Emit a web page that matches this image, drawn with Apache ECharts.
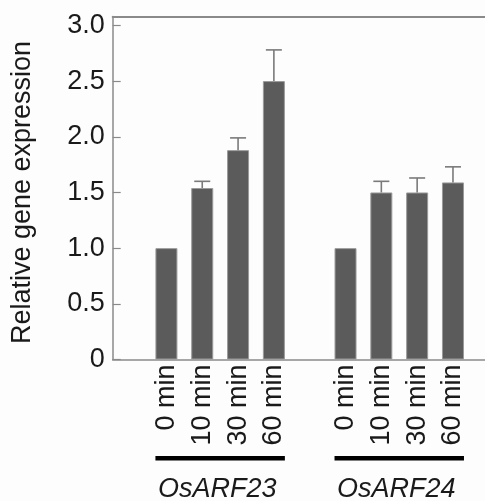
<!DOCTYPE html>
<html>
<head>
<meta charset="utf-8">
<script src="https://cdn.jsdelivr.net/npm/echarts@6/dist/echarts.min.js"></script>
<style>
html,body{margin:0;padding:0;background:#fdfdfd;}
#chart{width:485px;height:501px;}
</style>
</head>
<body>
<div id="chart"></div>
<script>
// ---- data ----
var genes = ['OsARF23', 'OsARF24'];
var timeLabels = ['0 min', '10 min', '30 min', '60 min'];
var values23 = [1.00, 1.54, 1.88, 2.50];
var err23 = [0, 0.06, 0.11, 0.28];
var values24 = [1.00, 1.50, 1.50, 1.59];
var err24 = [0, 0.10, 0.13, 0.14];
var yTicks = [0, 0.5, 1.0, 1.5, 2.0, 2.5, 3.0];

// ---- build category slots: blank, group1 (4), blank, group2 (4), blank ----
var categories = [];
var barData = [];
var errData = [];
var groupData = [];
var groupVals = [values23, values24];
var groupErrs = [err23, err24];
categories.push('gap0');
barData.push(null);
for (var g = 0; g < genes.length; g++) {
  var startIdx = categories.length;
  for (var t = 0; t < timeLabels.length; t++) {
    var idx = categories.length;
    categories.push(genes[g] + '|' + timeLabels[t]);
    barData.push(groupVals[g][t]);
    if (groupErrs[g][t] > 0) errData.push([idx, groupVals[g][t], groupErrs[g][t]]);
  }
  groupData.push([startIdx, categories.length - 1, g]);
  categories.push('gap' + (g + 1));
  barData.push(null);
}

var FONT = '"Liberation Sans", Arial, Helvetica, sans-serif';
var BAR_W = 22;

var chart = echarts.init(document.getElementById('chart'));
chart.setOption({
  backgroundColor: '#fdfdfd',
  animation: false,
  grid: { left: 112.7, top: 16.5, width: 394, height: 343, containLabel: false, outerBoundsMode: 'none' },
  xAxis: [{
    type: 'category',
    data: categories,
    position: 'bottom',
    axisLine: { lineStyle: { color: '#8a8a8a', width: 1.5 } },
    axisTick: { show: false },
    axisLabel: {
      interval: 0,
      rotate: 90,
      margin: 5,
      fontSize: 27,
      fontFamily: FONT,
      color: '#1a1a1a',
      formatter: function (v) {
        var p = v.split('|');
        return p.length > 1 ? p[1] : '';
      }
    }
  }, {
    type: 'category',
    data: categories,
    position: 'top',
    axisLine: { lineStyle: { color: '#8a8a8a', width: 2 } },
    axisTick: { show: false },
    axisLabel: { show: false }
  }],
  yAxis: {
    type: 'value',
    min: 0,
    max: 3.08,
    interval: 0.5,
    axisLine: { show: true, lineStyle: { color: '#8a8a8a', width: 1.5 } },
    axisTick: { show: true, inside: true, length: 8, lineStyle: { color: '#8a8a8a', width: 1.2 } },
    splitLine: { show: false },
    axisLabel: {
      showMaxLabel: false,
      margin: 8,
      fontSize: 27,
      fontFamily: FONT,
      color: '#1a1a1a',
      formatter: function (v) {
        var hit = yTicks.filter(function (t) { return Math.abs(t - v) < 1e-6; });
        if (!hit.length) return '';
        return v === 0 ? '0' : v.toFixed(1);
      }
    },
    name: 'Relative gene expression',
    nameLocation: 'middle',
    nameGap: 77,
    nameRotate: 90,
    nameTextStyle: { fontSize: 27, fontFamily: FONT, color: '#1a1a1a', padding: [0, 9, 0, 0] }
  },
  series: [{
    type: 'bar',
    data: barData,
    barWidth: BAR_W,
    itemStyle: { color: '#5b5b5b', borderColor: '#9a9a9a', borderWidth: 1 },
    z: 2
  }, {
    type: 'custom',
    data: errData,
    z: 3,
    renderItem: function (params, api) {
      var x = api.value(0), v = api.value(1), e = api.value(2);
      var p0 = api.coord([x, v]);
      var p1 = api.coord([x, v + e]);
      var cap = 8;
      return {
        type: 'group',
        children: [{
          type: 'line',
          shape: { x1: p0[0], y1: p0[1], x2: p1[0], y2: p1[1] },
          style: { stroke: '#7a7a7a', lineWidth: 1.6 }
        }, {
          type: 'line',
          shape: { x1: p1[0] - cap, y1: p1[1], x2: p1[0] + cap, y2: p1[1] },
          style: { stroke: '#7a7a7a', lineWidth: 1.6 }
        }]
      };
    }
  }, {
    type: 'custom',
    data: groupData,
    z: 3,
    clip: false,
    renderItem: function (params, api) {
      var s = api.value(0), e = api.value(1);
      var name = genes[api.value(2)];
      var ps = api.coord([s, 0]);
      var pe = api.coord([e, 0]);
      var x1 = ps[0] - BAR_W / 2, x2 = pe[0] + BAR_W / 2;
      var y0 = ps[1];
      return {
        type: 'group',
        children: [{
          type: 'rect',
          shape: { x: x1, y: y0 + 96.5, width: x2 - x1, height: 4.5 },
          style: { fill: '#000' }
        }, {
          type: 'text',
          x: (x1 + x2) / 2 - 3,
          y: y0 + 130,
          style: {
            text: name,
            fill: '#1a1a1a',
            fontSize: 27,
            fontStyle: 'italic',
            fontFamily: FONT,
            align: 'center',
            verticalAlign: 'middle'
          }
        }]
      };
    }
  }]
});
</script>
</body>
</html>
